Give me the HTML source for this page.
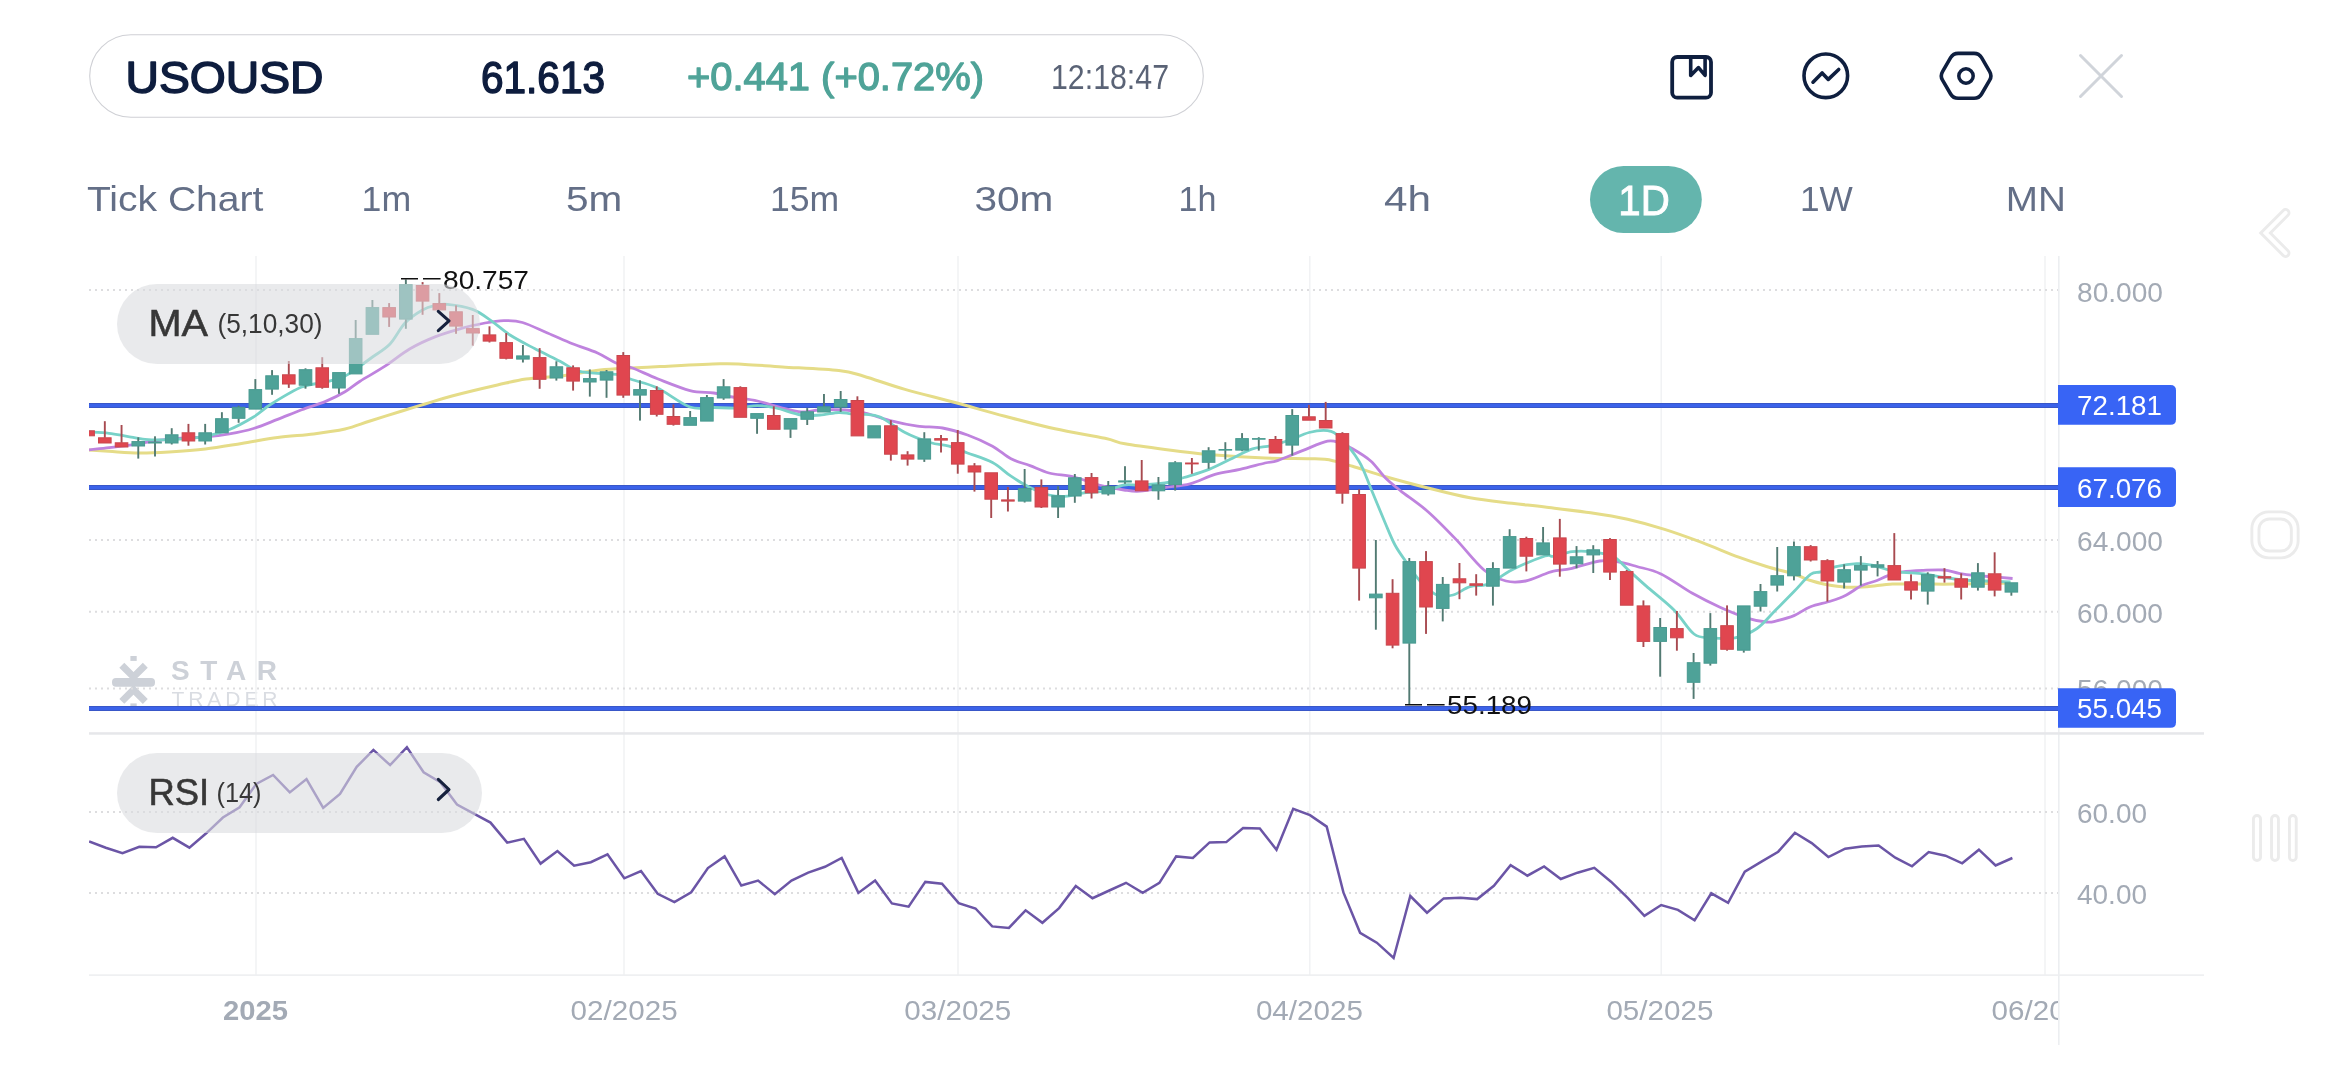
<!DOCTYPE html><html><head><meta charset="utf-8"><style>html,body{margin:0;padding:0;background:#fff;width:2340px;height:1080px;overflow:hidden;font-family:"Liberation Sans",sans-serif}</style></head><body><svg width="2340" height="1080" viewBox="0 0 2340 1080" style="position:absolute;left:0;top:0;will-change:transform">
<defs><clipPath id="plot"><rect x="89" y="250" width="1969" height="730"/></clipPath><clipPath id="xax"><rect x="0" y="980" width="2058" height="100"/></clipPath></defs>
<rect x="89.7" y="34.7" width="1113.6" height="82.6" rx="41.3" fill="#fff" stroke="#cfd0d5" stroke-width="1.1"/>
<text x="125.5" y="93" font-family="Liberation Sans, sans-serif" font-weight="400" font-size="44.5" fill="#0e1d3e" stroke="#0e1d3e" stroke-width="1.5" stroke-linejoin="round" textLength="198" lengthAdjust="spacingAndGlyphs">USOUSD</text>
<text x="481" y="93" font-family="Liberation Sans, sans-serif" font-weight="400" font-size="44.5" fill="#0e1d3e" stroke="#0e1d3e" stroke-width="1.5" stroke-linejoin="round" textLength="124" lengthAdjust="spacingAndGlyphs">61.613</text>
<text x="687" y="90.2" font-family="Liberation Sans, sans-serif" font-weight="400" font-size="39" fill="#4fa398" stroke="#4fa398" stroke-width="1.3" stroke-linejoin="round" textLength="297" lengthAdjust="spacingAndGlyphs">+0.441 (+0.72%)</text>
<text x="1051" y="89" font-family="Liberation Sans, sans-serif" font-weight="400" font-size="34.5" fill="#5a6376" textLength="118" lengthAdjust="spacingAndGlyphs">12:18:47</text>
<rect x="1672.2" y="57" width="38.8" height="40.7" rx="5" fill="none" stroke="#0f1f3f" stroke-width="3.8"/>
<path d="M1690.7,57.5 V75.5 L1698.5,67.6 L1705.1,75.3 V57.5" fill="none" stroke="#0f1f3f" stroke-width="3.6" stroke-linejoin="round" stroke-linecap="round"/>
<circle cx="1825.8" cy="75.8" r="21.8" fill="none" stroke="#0f1f3f" stroke-width="3.6"/>
<path d="M1813,82.2 L1822.1,72.9 L1828.3,79.4 L1838.7,69.5" fill="none" stroke="#0f1f3f" stroke-width="3.6" stroke-linecap="round" stroke-linejoin="round"/>
<path d="M1942.53,80.16 Q1940.00,75.85 1942.53,71.54 L1950.62,57.71 Q1953.15,53.40 1958.15,53.40 L1974.05,53.40 Q1979.05,53.40 1981.58,57.71 L1989.67,71.54 Q1992.20,75.85 1989.67,80.16 L1981.58,93.99 Q1979.05,98.30 1974.05,98.30 L1958.15,98.30 Q1953.15,98.30 1950.62,93.99 Z" fill="none" stroke="#0f1f3f" stroke-width="3.6" stroke-linejoin="round"/>
<circle cx="1966" cy="76" r="7.2" fill="none" stroke="#0f1f3f" stroke-width="3.5"/>
<path d="M2080.5,55.5 L2121.5,96.5 M2121.5,55.5 L2080.5,96.5" stroke="#d0d4da" stroke-width="3" stroke-linecap="round"/>
<rect x="1590" y="166" width="111.8" height="67" rx="33.5" fill="#64b5ad"/>
<text x="86.9" y="211.3" font-family="Liberation Sans, sans-serif" font-size="35" fill="#646f87" textLength="176.5" lengthAdjust="spacingAndGlyphs">Tick Chart</text>
<text x="361.6" y="211.3" font-family="Liberation Sans, sans-serif" font-size="35" fill="#646f87" textLength="49.6" lengthAdjust="spacingAndGlyphs">1m</text>
<text x="566.0" y="211.3" font-family="Liberation Sans, sans-serif" font-size="35" fill="#646f87" textLength="56.3" lengthAdjust="spacingAndGlyphs">5m</text>
<text x="770.0" y="211.3" font-family="Liberation Sans, sans-serif" font-size="35" fill="#646f87" textLength="69.2" lengthAdjust="spacingAndGlyphs">15m</text>
<text x="974.4" y="211.3" font-family="Liberation Sans, sans-serif" font-size="35" fill="#646f87" textLength="79.0" lengthAdjust="spacingAndGlyphs">30m</text>
<text x="1178.5" y="211.3" font-family="Liberation Sans, sans-serif" font-size="35" fill="#646f87" textLength="37.9" lengthAdjust="spacingAndGlyphs">1h</text>
<text x="1384.0" y="211.3" font-family="Liberation Sans, sans-serif" font-size="35" fill="#646f87" textLength="47.0" lengthAdjust="spacingAndGlyphs">4h</text>
<text x="1800.0" y="211.3" font-family="Liberation Sans, sans-serif" font-size="35" fill="#646f87" textLength="52.8" lengthAdjust="spacingAndGlyphs">1W</text>
<text x="2005.8" y="211.3" font-family="Liberation Sans, sans-serif" font-size="35" fill="#646f87" textLength="60.1" lengthAdjust="spacingAndGlyphs">MN</text>
<text x="1618.3" y="215.2" font-family="Liberation Sans, sans-serif" font-weight="400" font-size="42.5" fill="#fff" stroke="#fff" stroke-width="0.9" textLength="51.5" lengthAdjust="spacingAndGlyphs">1D</text>
<path d="M2285.6,212.9 L2265.5,233 L2285.6,253.1" fill="none" stroke="#ebebeb" stroke-width="9.7" stroke-linecap="round" stroke-linejoin="miter"/>
<path d="M2285.6,212.9 L2265.5,233 L2285.6,253.1" fill="none" stroke="#fff" stroke-width="3.9" stroke-linecap="round" stroke-linejoin="miter"/>
<rect x="2251.85" y="511.85" width="46.3" height="46.0" rx="17" fill="none" stroke="#ebebeb" stroke-width="2.9"/>
<rect x="2258.95" y="518.95" width="32.4" height="32.1" rx="10.5" fill="none" stroke="#ebebeb" stroke-width="2.9"/>
<rect x="2253.45" y="815.45" width="7.10" height="45.1" rx="3.55" fill="none" stroke="#ebebeb" stroke-width="2.9"/>
<rect x="2271.55" y="815.45" width="6.90" height="45.1" rx="3.45" fill="none" stroke="#ebebeb" stroke-width="2.9"/>
<rect x="2289.45" y="815.45" width="6.80" height="45.1" rx="3.40" fill="none" stroke="#ebebeb" stroke-width="2.9"/>
<g fill="#cdd1d8" stroke="none"><path d="M121.8,665.2 L133.5,676.9 L145.3,665.2 M121.8,701.4 L133.5,689.7 L145.3,701.4" fill="none" stroke="#cdd1d8" stroke-width="7" stroke-linejoin="miter"/><rect x="133" y="676" width="1" height="14"/><rect x="112" y="678" width="43" height="8.8" rx="4"/><rect x="130.4" y="656" width="6.3" height="4.9"/><rect x="130.4" y="703.4" width="6.3" height="4.9"/></g>
<text x="171" y="679.7" font-family="Liberation Sans, sans-serif" font-weight="700" font-size="28" fill="#cdd1d8" textLength="106" lengthAdjust="spacing">STAR</text>
<text x="171.5" y="705.8" font-family="Liberation Sans, sans-serif" font-weight="400" font-size="21" fill="#cdd1d8" textLength="106" lengthAdjust="spacing" opacity="0.75">TRADER</text>
<rect x="255.25" y="256" width="1.5" height="719" fill="#f1f2f4"/>
<rect x="623.25" y="256" width="1.5" height="719" fill="#f1f2f4"/>
<rect x="957.25" y="256" width="1.5" height="719" fill="#f1f2f4"/>
<rect x="1309.05" y="256" width="1.5" height="719" fill="#f1f2f4"/>
<rect x="1660.45" y="256" width="1.5" height="719" fill="#f1f2f4"/>
<rect x="2044.25" y="256" width="1.5" height="719" fill="#f1f2f4"/>
<rect x="2058" y="256" width="1.6" height="789" fill="#eceef1"/>
<line x1="89" y1="290" x2="2058" y2="290" stroke="#dddddf" stroke-width="2" stroke-dasharray="2 4"/>
<line x1="89" y1="540" x2="2058" y2="540" stroke="#dddddf" stroke-width="2" stroke-dasharray="2 4"/>
<line x1="89" y1="611.8" x2="2058" y2="611.8" stroke="#dddddf" stroke-width="2" stroke-dasharray="2 4"/>
<line x1="89" y1="688.5" x2="2058" y2="688.5" stroke="#dddddf" stroke-width="2" stroke-dasharray="2 4"/>
<line x1="89" y1="812" x2="2058" y2="812" stroke="#dddddf" stroke-width="2" stroke-dasharray="2 4"/>
<line x1="89" y1="893" x2="2058" y2="893" stroke="#dddddf" stroke-width="2" stroke-dasharray="2 4"/>
<rect x="89" y="732.2" width="2115" height="2.5" fill="#e6e7ea"/>
<rect x="89" y="974.3" width="2115" height="1.6" fill="#eeeff1"/>
<g clip-path="url(#plot)">
<rect x="89" y="403" width="1970" height="5" fill="#3957c8"/>
<rect x="89" y="404" width="1970" height="3" fill="#3b62e9"/>
<rect x="89" y="485" width="1970" height="5" fill="#3957c8"/>
<rect x="89" y="486" width="1970" height="3" fill="#3b62e9"/>
<rect x="89" y="706" width="1970" height="5" fill="#3957c8"/>
<rect x="89" y="707" width="1970" height="3" fill="#3b62e9"/>
<path d="M89.0,450.1 C92.3,450.3 100.7,450.8 109.0,451.3 C117.3,451.8 129.0,453.0 139.0,453.1 C149.0,453.2 157.9,452.7 169.0,452.0 C180.1,451.3 193.3,450.4 205.4,449.0 C217.5,447.6 229.5,445.4 241.5,443.5 C253.5,441.6 265.6,439.1 277.6,437.5 C289.6,435.9 302.5,435.3 313.7,433.9 C324.9,432.5 335.6,431.1 345.0,429.0 C354.4,426.9 360.5,424.0 370.0,421.0 C379.5,418.0 392.8,413.8 402.0,411.0 C411.2,408.2 416.7,406.5 425.0,404.0 C433.3,401.5 439.9,399.2 452.0,396.0 C464.1,392.8 485.2,387.8 497.5,385.0 C509.8,382.2 515.6,380.5 526.0,379.0 C536.4,377.5 547.7,377.5 560.0,376.0 C572.3,374.5 587.9,371.3 600.0,370.0 C612.1,368.7 622.5,368.6 632.5,368.0 C642.5,367.4 645.4,367.2 660.0,366.5 C674.6,365.8 705.8,364.1 720.0,363.8 C734.2,363.4 734.6,363.9 745.0,364.4 C755.4,364.9 766.9,365.9 782.5,366.9 C798.1,367.9 825.2,369.0 838.8,370.6 C852.3,372.2 852.7,373.1 863.8,376.2 C874.8,379.4 889.8,385.0 905.0,389.4 C920.2,393.8 938.3,398.0 955.0,402.5 C971.7,407.0 988.3,411.9 1005.0,416.2 C1021.7,420.6 1038.3,425.1 1055.0,428.8 C1071.7,432.4 1093.3,435.8 1105.0,438.3 C1116.7,440.8 1115.0,442.0 1125.0,443.8 C1135.0,445.6 1150.0,447.5 1165.0,449.4 C1180.0,451.3 1198.3,453.6 1215.0,455.0 C1231.7,456.4 1248.3,457.4 1265.0,458.0 C1281.7,458.6 1304.2,458.4 1315.0,458.8 C1325.8,459.1 1323.8,458.8 1330.0,460.0 C1336.2,461.2 1343.0,463.4 1352.5,466.2 C1362.0,469.1 1374.1,473.4 1386.7,477.0 C1399.3,480.6 1414.1,484.5 1428.0,488.0 C1441.9,491.5 1456.0,495.2 1470.0,497.8 C1484.0,500.4 1499.5,501.8 1512.0,503.3 C1524.5,504.8 1531.9,505.4 1545.0,507.0 C1558.1,508.6 1576.8,510.7 1590.6,512.8 C1604.4,514.8 1615.3,516.5 1627.6,519.3 C1639.9,522.1 1652.2,525.5 1664.6,529.4 C1676.9,533.2 1689.3,537.8 1701.7,542.4 C1714.1,547.0 1727.9,553.2 1738.7,557.2 C1749.5,561.2 1757.3,563.7 1766.5,566.5 C1775.7,569.3 1787.6,572.0 1794.0,574.0 C1800.4,576.0 1802.2,577.4 1805.0,578.5 C1807.8,579.6 1807.0,579.5 1810.5,580.5 C1814.0,581.5 1820.0,583.5 1826.0,584.6 C1832.0,585.7 1839.6,586.9 1846.4,587.2 C1853.2,587.6 1859.3,587.2 1867.0,586.7 C1874.7,586.2 1883.3,584.5 1892.6,584.1 C1901.9,583.7 1912.8,584.1 1923.0,584.1 C1933.2,584.1 1943.7,584.2 1954.0,584.1 C1964.3,584.0 1975.6,583.8 1985.0,583.6 C1994.4,583.4 2006.2,583.2 2010.5,583.1" fill="none" stroke="#e5dc88" stroke-width="3" stroke-linejoin="round"/>
<path d="M89.0,449.8 C92.3,449.4 101.7,448.6 109.0,447.7 C116.3,446.8 125.0,445.9 133.0,444.7 C141.0,443.5 148.9,441.6 157.0,440.5 C165.1,439.4 173.2,438.7 181.3,438.1 C189.4,437.5 197.4,437.6 205.4,436.9 C213.4,436.2 221.4,435.3 229.4,433.9 C237.4,432.5 245.5,430.9 253.5,428.5 C261.5,426.1 269.6,422.5 277.6,419.4 C285.6,416.3 293.7,412.8 301.7,409.8 C309.7,406.8 318.5,404.4 325.7,401.4 C332.9,398.4 339.3,395.2 345.0,391.8 C350.7,388.4 353.3,385.5 360.0,381.2 C366.7,377.0 376.7,371.7 385.0,366.2 C393.3,360.8 401.7,353.6 410.0,348.8 C418.3,343.9 426.7,340.2 435.0,336.9 C443.3,333.6 451.7,331.1 460.0,328.8 C468.3,326.4 477.7,324.4 485.0,323.0 C492.3,321.6 497.5,320.7 503.8,320.6 C510.0,320.5 515.2,320.4 522.5,322.5 C529.8,324.6 539.2,329.5 547.5,333.0 C555.8,336.5 564.2,340.4 572.5,343.8 C580.8,347.1 590.2,349.8 597.5,353.0 C604.8,356.2 610.2,360.5 616.0,363.0 C621.8,365.5 625.6,365.4 632.5,368.0 C639.4,370.6 647.9,375.0 657.5,378.8 C667.1,382.5 680.6,388.2 690.0,390.6 C699.4,393.0 706.7,391.9 713.8,393.0 C720.8,394.1 725.2,395.7 732.5,397.0 C739.8,398.3 749.2,399.2 757.5,401.0 C765.8,402.8 775.2,406.2 782.5,408.0 C789.8,409.8 794.8,411.7 801.0,412.0 C807.2,412.3 812.7,410.3 820.0,410.0 C827.3,409.7 837.5,409.5 845.0,410.0 C852.5,410.5 857.1,411.1 865.0,413.0 C872.9,414.9 883.8,419.0 892.5,421.2 C901.2,423.5 909.2,425.1 917.5,426.2 C925.8,427.4 934.2,426.5 942.5,428.0 C950.8,429.5 959.2,432.0 967.5,435.0 C975.8,438.0 985.2,442.3 992.5,446.2 C999.8,450.2 1004.8,455.5 1011.0,458.8 C1017.2,462.0 1023.7,463.2 1030.0,465.6 C1036.3,468.0 1041.7,471.1 1049.0,473.0 C1056.3,474.9 1065.7,475.0 1074.0,477.0 C1082.3,479.0 1090.7,482.8 1099.0,485.0 C1107.3,487.2 1117.2,489.0 1124.0,490.0 C1130.8,491.0 1133.2,491.7 1140.0,491.2 C1146.8,490.8 1156.7,488.8 1165.0,487.5 C1173.3,486.2 1181.7,485.9 1190.0,483.8 C1198.3,481.6 1206.7,476.8 1215.0,474.4 C1223.3,472.0 1231.7,471.3 1240.0,469.4 C1248.3,467.5 1258.8,464.5 1265.0,463.0 C1271.2,461.5 1271.2,462.7 1277.5,460.6 C1283.8,458.5 1294.2,453.8 1302.5,450.6 C1310.8,447.4 1321.2,442.5 1327.5,441.2 C1333.8,440.0 1335.8,441.8 1340.0,443.0 C1344.2,444.2 1347.3,445.7 1352.5,448.8 C1357.7,451.8 1365.6,456.5 1371.0,461.2 C1376.4,466.0 1380.1,472.6 1385.0,477.5 C1389.9,482.4 1393.4,485.1 1400.6,490.8 C1407.8,496.5 1418.8,503.6 1428.0,511.7 C1437.2,519.8 1446.7,529.7 1456.0,539.4 C1465.3,549.1 1475.7,563.1 1484.0,570.0 C1492.3,576.9 1499.1,579.2 1506.0,581.0 C1512.9,582.8 1519.1,582.2 1525.6,581.0 C1532.1,579.8 1540.3,575.6 1545.0,574.0 C1549.7,572.4 1549.0,572.1 1553.5,571.1 C1558.0,570.1 1564.3,570.0 1572.0,568.3 C1579.7,566.6 1592.1,562.1 1599.8,561.0 C1607.5,559.9 1611.8,561.0 1618.0,561.9 C1624.2,562.8 1629.6,564.5 1636.8,566.5 C1644.0,568.5 1651.7,569.4 1661.0,573.9 C1670.3,578.4 1682.6,587.8 1692.4,593.3 C1702.2,598.8 1710.7,603.0 1720.0,607.2 C1729.3,611.4 1740.2,615.8 1748.0,618.3 C1755.8,620.8 1761.9,621.5 1766.5,622.0 C1771.1,622.5 1771.1,622.2 1775.7,621.1 C1780.3,620.0 1788.2,618.0 1794.0,615.6 C1799.8,613.2 1804.3,609.1 1810.5,606.7 C1816.7,604.3 1825.0,603.0 1831.0,601.0 C1837.0,599.0 1841.3,597.5 1846.4,594.9 C1851.5,592.3 1856.7,588.0 1861.8,585.6 C1866.9,583.2 1872.7,582.1 1877.0,580.5 C1881.3,578.9 1883.1,577.4 1887.4,575.9 C1891.7,574.4 1896.8,572.7 1902.8,571.8 C1908.8,570.9 1916.4,570.6 1923.3,570.3 C1930.2,570.0 1938.0,569.5 1944.0,570.0 C1950.0,570.5 1953.9,572.4 1959.0,573.3 C1964.1,574.2 1968.6,574.8 1974.6,575.4 C1980.6,576.0 1988.7,576.5 1995.0,577.0 C2001.3,577.5 2009.7,578.2 2012.6,578.5" fill="none" stroke="#bf83de" stroke-width="2.8" stroke-linejoin="round"/>
<path d="M89.0,432.0 C92.3,432.2 102.7,432.6 109.0,433.3 C115.3,434.0 121.0,435.3 127.0,436.3 C133.0,437.3 139.0,438.7 145.0,439.3 C151.0,439.9 156.0,440.0 163.0,439.9 C170.0,439.8 180.0,439.3 187.0,438.7 C194.0,438.1 198.0,437.8 205.0,436.3 C212.0,434.8 220.9,432.9 229.0,429.7 C237.1,426.5 246.4,421.3 253.5,417.0 C260.6,412.7 263.6,408.8 271.6,403.8 C279.6,398.8 292.7,390.6 301.7,387.0 C310.7,383.4 318.5,383.9 325.7,382.1 C332.9,380.3 339.3,378.7 345.0,376.0 C350.7,373.3 355.4,369.2 360.0,366.0 C364.6,362.8 367.5,360.7 372.5,357.0 C377.5,353.3 384.6,349.7 390.0,344.0 C395.4,338.3 399.6,328.7 405.0,323.0 C410.4,317.3 417.5,312.9 422.5,310.0 C427.5,307.1 430.8,306.5 435.0,305.6 C439.2,304.7 441.2,303.8 447.5,304.4 C453.8,305.0 465.2,306.7 472.5,309.4 C479.8,312.1 484.8,316.3 491.0,320.6 C497.2,324.9 502.7,330.3 510.0,335.0 C517.3,339.7 526.7,344.4 535.0,348.8 C543.3,353.1 552.7,357.5 560.0,361.2 C567.3,365.0 571.2,369.2 578.8,371.2 C586.2,373.3 598.1,373.1 605.0,373.8 C611.9,374.4 615.4,374.0 620.0,375.0 C624.6,376.0 626.2,377.6 632.5,379.8 C638.8,381.9 647.9,383.5 657.5,388.0 C667.1,392.5 680.6,403.8 690.0,407.0 C699.4,410.2 705.6,407.3 713.8,407.5 C721.9,407.7 731.5,408.3 738.8,408.0 C746.0,407.7 751.3,405.6 757.5,405.6 C763.7,405.6 768.8,406.4 776.0,408.0 C783.2,409.6 793.7,413.8 801.0,415.0 C808.3,416.2 813.7,415.4 820.0,415.0 C826.3,414.6 833.6,412.7 838.8,412.5 C843.9,412.3 846.6,413.4 851.0,413.8 C855.4,414.1 860.2,413.9 865.0,414.4 C869.8,414.9 873.3,414.0 880.0,417.0 C886.7,420.0 896.7,428.2 905.0,432.5 C913.3,436.8 922.7,440.2 930.0,442.5 C937.3,444.8 942.8,444.5 949.0,446.2 C955.2,448.0 960.2,450.3 967.5,453.0 C974.8,455.7 985.2,458.6 992.5,462.5 C999.8,466.4 1004.8,472.1 1011.0,476.2 C1017.2,480.4 1023.7,484.4 1030.0,487.5 C1036.3,490.6 1042.8,493.5 1049.0,495.0 C1055.2,496.5 1061.3,496.7 1067.5,496.2 C1073.7,495.8 1079.8,493.3 1086.0,492.5 C1092.2,491.7 1098.7,492.5 1105.0,491.2 C1111.3,490.0 1118.2,486.0 1124.0,485.0 C1129.8,484.0 1133.2,485.3 1140.0,485.0 C1146.8,484.7 1157.7,484.2 1165.0,483.0 C1172.3,481.8 1176.7,479.8 1184.0,477.5 C1191.3,475.2 1200.7,472.7 1209.0,469.4 C1217.3,466.1 1226.8,460.9 1234.0,457.5 C1241.2,454.1 1246.3,450.7 1252.5,448.8 C1258.7,446.8 1264.8,447.1 1271.0,445.6 C1277.2,444.1 1283.7,442.2 1290.0,440.0 C1296.3,437.8 1302.8,434.1 1309.0,432.5 C1315.2,430.9 1322.3,429.8 1327.5,430.6 C1332.7,431.4 1334.8,432.4 1340.0,437.5 C1345.2,442.6 1353.8,452.7 1359.0,461.2 C1364.2,469.8 1366.7,478.5 1371.0,488.8 C1375.3,499.0 1381.0,513.1 1385.0,522.5 C1389.0,531.9 1391.5,538.5 1395.0,545.0 C1398.5,551.5 1401.8,555.7 1406.0,561.7 C1410.2,567.7 1414.9,575.5 1420.0,581.0 C1425.1,586.5 1431.2,592.7 1436.7,595.0 C1442.2,597.3 1447.5,596.4 1453.0,595.0 C1458.5,593.6 1464.0,588.6 1470.0,586.7 C1476.0,584.9 1482.0,586.7 1489.0,583.9 C1496.0,581.1 1502.4,574.6 1511.7,570.0 C1521.0,565.4 1538.0,558.3 1545.0,556.0 C1552.0,553.7 1549.0,557.0 1553.5,556.3 C1558.0,555.6 1565.8,552.5 1572.0,551.7 C1578.2,550.9 1583.8,550.9 1590.6,551.7 C1597.4,552.5 1606.6,553.4 1612.8,556.3 C1619.0,559.2 1622.1,564.4 1627.6,569.3 C1633.1,574.2 1638.3,579.1 1646.0,585.9 C1653.7,592.7 1666.0,602.0 1674.0,610.0 C1682.0,618.0 1687.8,629.4 1694.0,634.0 C1700.2,638.6 1704.2,637.2 1711.0,637.8 C1717.8,638.4 1727.3,639.3 1735.0,637.8 C1742.7,636.2 1750.2,633.1 1757.0,628.5 C1763.8,623.9 1769.5,616.2 1775.7,610.0 C1781.9,603.8 1788.2,597.4 1794.0,591.5 C1799.8,585.6 1806.0,577.7 1810.5,574.4 C1815.0,571.1 1816.5,573.1 1820.8,571.8 C1825.0,570.5 1830.0,568.1 1836.0,566.7 C1842.0,565.3 1850.7,563.9 1856.7,563.6 C1862.7,563.3 1866.9,564.1 1872.0,565.1 C1877.1,566.1 1882.3,568.5 1887.4,569.7 C1892.5,570.9 1896.8,571.6 1902.8,572.3 C1908.8,573.0 1916.4,572.9 1923.3,573.8 C1930.2,574.6 1937.2,576.4 1944.0,577.4 C1950.8,578.4 1957.2,579.4 1964.0,580.0 C1970.8,580.6 1977.2,580.7 1985.0,581.0 C1992.8,581.3 2006.2,581.8 2010.5,582.0" fill="none" stroke="#78d2c8" stroke-width="2.8" stroke-linejoin="round"/>
<rect x="81.80" y="430.8" width="12.60" height="5.0" fill="#e0464f" stroke="#c9464d" stroke-width="1"/>
<rect x="103.87" y="421.2" width="1.9" height="16.6" fill="#a84a50"/>
<rect x="98.52" y="437.8" width="12.60" height="5.2" fill="#e0464f" stroke="#c9464d" stroke-width="1"/>
<rect x="120.60" y="425.0" width="1.9" height="17.8" fill="#a84a50"/>
<rect x="115.25" y="442.8" width="12.60" height="4.2" fill="#e0464f" stroke="#c9464d" stroke-width="1"/>
<rect x="137.32" y="437.3" width="1.9" height="4.3" fill="#527a72"/>
<rect x="137.32" y="446.0" width="1.9" height="12.6" fill="#527a72"/>
<rect x="131.97" y="441.6" width="12.60" height="4.4" fill="#4ea298" stroke="#489a90" stroke-width="1"/>
<rect x="154.05" y="436.3" width="1.9" height="5.7" fill="#527a72"/>
<rect x="154.05" y="443.0" width="1.9" height="13.5" fill="#527a72"/>
<rect x="148.70" y="442.0" width="12.60" height="1.0" fill="#4ea298" stroke="#489a90" stroke-width="1"/>
<rect x="170.77" y="428.2" width="1.9" height="6.6" fill="#527a72"/>
<rect x="170.77" y="443.0" width="1.9" height="1.5" fill="#527a72"/>
<rect x="165.42" y="434.8" width="12.60" height="8.2" fill="#4ea298" stroke="#489a90" stroke-width="1"/>
<rect x="187.49" y="423.9" width="1.9" height="8.9" fill="#a84a50"/>
<rect x="187.49" y="441.0" width="1.9" height="4.7" fill="#a84a50"/>
<rect x="182.14" y="432.8" width="12.60" height="8.2" fill="#e0464f" stroke="#c9464d" stroke-width="1"/>
<rect x="204.22" y="423.9" width="1.9" height="8.9" fill="#527a72"/>
<rect x="204.22" y="441.0" width="1.9" height="3.5" fill="#527a72"/>
<rect x="198.87" y="432.8" width="12.60" height="8.2" fill="#4ea298" stroke="#489a90" stroke-width="1"/>
<rect x="220.94" y="412.2" width="1.9" height="6.5" fill="#527a72"/>
<rect x="215.59" y="418.7" width="12.60" height="14.1" fill="#4ea298" stroke="#489a90" stroke-width="1"/>
<rect x="237.67" y="405.6" width="1.9" height="1.7" fill="#527a72"/>
<rect x="237.67" y="418.3" width="1.9" height="4.5" fill="#527a72"/>
<rect x="232.32" y="407.3" width="12.60" height="11.0" fill="#4ea298" stroke="#489a90" stroke-width="1"/>
<rect x="254.39" y="379.1" width="1.9" height="10.5" fill="#527a72"/>
<rect x="249.04" y="389.6" width="12.60" height="19.5" fill="#4ea298" stroke="#489a90" stroke-width="1"/>
<rect x="271.11" y="370.1" width="1.9" height="5.7" fill="#527a72"/>
<rect x="271.11" y="389.1" width="1.9" height="5.7" fill="#527a72"/>
<rect x="265.76" y="375.8" width="12.60" height="13.3" fill="#4ea298" stroke="#489a90" stroke-width="1"/>
<rect x="287.84" y="361.0" width="1.9" height="13.8" fill="#a84a50"/>
<rect x="287.84" y="384.0" width="1.9" height="3.9" fill="#a84a50"/>
<rect x="282.49" y="374.8" width="12.60" height="9.2" fill="#e0464f" stroke="#c9464d" stroke-width="1"/>
<rect x="304.56" y="368.3" width="1.9" height="1.4" fill="#527a72"/>
<rect x="304.56" y="385.2" width="1.9" height="3.5" fill="#527a72"/>
<rect x="299.21" y="369.7" width="12.60" height="15.5" fill="#4ea298" stroke="#489a90" stroke-width="1"/>
<rect x="321.29" y="357.2" width="1.9" height="10.6" fill="#a84a50"/>
<rect x="321.29" y="387.3" width="1.9" height="1.4" fill="#a84a50"/>
<rect x="315.94" y="367.8" width="12.60" height="19.5" fill="#e0464f" stroke="#c9464d" stroke-width="1"/>
<rect x="338.01" y="388.0" width="1.9" height="5.8" fill="#527a72"/>
<rect x="332.66" y="372.6" width="12.60" height="15.4" fill="#4ea298" stroke="#489a90" stroke-width="1"/>
<rect x="354.73" y="320.0" width="1.9" height="18.6" fill="#527a72"/>
<rect x="349.38" y="338.6" width="12.60" height="35.3" fill="#4ea298" stroke="#489a90" stroke-width="1"/>
<rect x="371.46" y="300.0" width="1.9" height="7.6" fill="#527a72"/>
<rect x="366.11" y="307.6" width="12.60" height="26.7" fill="#4ea298" stroke="#489a90" stroke-width="1"/>
<rect x="388.18" y="303.1" width="1.9" height="4.5" fill="#a84a50"/>
<rect x="388.18" y="317.0" width="1.9" height="9.9" fill="#a84a50"/>
<rect x="382.83" y="307.6" width="12.60" height="9.4" fill="#e0464f" stroke="#c9464d" stroke-width="1"/>
<rect x="404.91" y="279.4" width="1.9" height="5.2" fill="#527a72"/>
<rect x="404.91" y="319.1" width="1.9" height="9.7" fill="#527a72"/>
<rect x="399.56" y="284.6" width="12.60" height="34.5" fill="#4ea298" stroke="#489a90" stroke-width="1"/>
<rect x="421.63" y="282.1" width="1.9" height="3.4" fill="#a84a50"/>
<rect x="421.63" y="301.1" width="1.9" height="13.7" fill="#a84a50"/>
<rect x="416.28" y="285.5" width="12.60" height="15.6" fill="#e0464f" stroke="#c9464d" stroke-width="1"/>
<rect x="438.35" y="293.1" width="1.9" height="10.5" fill="#a84a50"/>
<rect x="433.00" y="303.6" width="12.60" height="6.3" fill="#e0464f" stroke="#c9464d" stroke-width="1"/>
<rect x="455.08" y="305.4" width="1.9" height="6.4" fill="#a84a50"/>
<rect x="455.08" y="326.1" width="1.9" height="7.7" fill="#a84a50"/>
<rect x="449.73" y="311.8" width="12.60" height="14.3" fill="#e0464f" stroke="#c9464d" stroke-width="1"/>
<rect x="471.80" y="315.0" width="1.9" height="13.6" fill="#a84a50"/>
<rect x="471.80" y="333.0" width="1.9" height="12.6" fill="#a84a50"/>
<rect x="466.45" y="328.6" width="12.60" height="4.4" fill="#e0464f" stroke="#c9464d" stroke-width="1"/>
<rect x="488.53" y="326.3" width="1.9" height="8.6" fill="#a84a50"/>
<rect x="488.53" y="341.1" width="1.9" height="1.4" fill="#a84a50"/>
<rect x="483.18" y="334.9" width="12.60" height="6.2" fill="#e0464f" stroke="#c9464d" stroke-width="1"/>
<rect x="505.25" y="333.1" width="1.9" height="9.5" fill="#a84a50"/>
<rect x="505.25" y="358.3" width="1.9" height="1.1" fill="#a84a50"/>
<rect x="499.90" y="342.6" width="12.60" height="15.7" fill="#e0464f" stroke="#c9464d" stroke-width="1"/>
<rect x="521.97" y="345.0" width="1.9" height="10.9" fill="#527a72"/>
<rect x="521.97" y="359.1" width="1.9" height="3.4" fill="#527a72"/>
<rect x="516.62" y="355.9" width="12.60" height="3.2" fill="#4ea298" stroke="#489a90" stroke-width="1"/>
<rect x="538.70" y="348.1" width="1.9" height="9.5" fill="#a84a50"/>
<rect x="538.70" y="379.3" width="1.9" height="9.5" fill="#a84a50"/>
<rect x="533.35" y="357.6" width="12.60" height="21.7" fill="#e0464f" stroke="#c9464d" stroke-width="1"/>
<rect x="555.42" y="361.3" width="1.9" height="5.5" fill="#527a72"/>
<rect x="555.42" y="378.0" width="1.9" height="2.6" fill="#527a72"/>
<rect x="550.07" y="366.8" width="12.60" height="11.2" fill="#4ea298" stroke="#489a90" stroke-width="1"/>
<rect x="572.15" y="365.4" width="1.9" height="2.4" fill="#a84a50"/>
<rect x="572.15" y="381.1" width="1.9" height="9.5" fill="#a84a50"/>
<rect x="566.80" y="367.8" width="12.60" height="13.3" fill="#e0464f" stroke="#c9464d" stroke-width="1"/>
<rect x="588.87" y="369.4" width="1.9" height="9.2" fill="#527a72"/>
<rect x="588.87" y="382.0" width="1.9" height="14.6" fill="#527a72"/>
<rect x="583.52" y="378.6" width="12.60" height="3.4" fill="#4ea298" stroke="#489a90" stroke-width="1"/>
<rect x="605.59" y="370.0" width="1.9" height="1.8" fill="#527a72"/>
<rect x="605.59" y="380.1" width="1.9" height="17.7" fill="#527a72"/>
<rect x="600.24" y="371.8" width="12.60" height="8.3" fill="#4ea298" stroke="#489a90" stroke-width="1"/>
<rect x="622.32" y="352.1" width="1.9" height="3.4" fill="#a84a50"/>
<rect x="622.32" y="395.1" width="1.9" height="2.7" fill="#a84a50"/>
<rect x="616.97" y="355.5" width="12.60" height="39.6" fill="#e0464f" stroke="#c9464d" stroke-width="1"/>
<rect x="639.04" y="380.3" width="1.9" height="9.3" fill="#527a72"/>
<rect x="639.04" y="395.1" width="1.9" height="25.5" fill="#527a72"/>
<rect x="633.69" y="389.6" width="12.60" height="5.5" fill="#4ea298" stroke="#489a90" stroke-width="1"/>
<rect x="655.77" y="386.3" width="1.9" height="4.2" fill="#a84a50"/>
<rect x="655.77" y="414.3" width="1.9" height="2.2" fill="#a84a50"/>
<rect x="650.42" y="390.5" width="12.60" height="23.8" fill="#e0464f" stroke="#c9464d" stroke-width="1"/>
<rect x="672.49" y="404.4" width="1.9" height="12.1" fill="#a84a50"/>
<rect x="672.49" y="424.3" width="1.9" height="1.3" fill="#a84a50"/>
<rect x="667.14" y="416.5" width="12.60" height="7.8" fill="#e0464f" stroke="#c9464d" stroke-width="1"/>
<rect x="689.21" y="411.0" width="1.9" height="6.6" fill="#527a72"/>
<rect x="683.86" y="417.6" width="12.60" height="7.7" fill="#4ea298" stroke="#489a90" stroke-width="1"/>
<rect x="705.94" y="395.0" width="1.9" height="2.6" fill="#527a72"/>
<rect x="700.59" y="397.6" width="12.60" height="23.5" fill="#4ea298" stroke="#489a90" stroke-width="1"/>
<rect x="722.66" y="379.1" width="1.9" height="7.7" fill="#527a72"/>
<rect x="722.66" y="398.0" width="1.9" height="1.8" fill="#527a72"/>
<rect x="717.31" y="386.8" width="12.60" height="11.2" fill="#4ea298" stroke="#489a90" stroke-width="1"/>
<rect x="739.39" y="386.3" width="1.9" height="1.3" fill="#a84a50"/>
<rect x="734.04" y="387.6" width="12.60" height="29.7" fill="#e0464f" stroke="#c9464d" stroke-width="1"/>
<rect x="756.11" y="418.3" width="1.9" height="15.5" fill="#527a72"/>
<rect x="750.76" y="413.6" width="12.60" height="4.7" fill="#4ea298" stroke="#489a90" stroke-width="1"/>
<rect x="772.83" y="406.3" width="1.9" height="9.2" fill="#a84a50"/>
<rect x="767.48" y="415.5" width="12.60" height="13.8" fill="#e0464f" stroke="#c9464d" stroke-width="1"/>
<rect x="789.56" y="429.1" width="1.9" height="8.8" fill="#527a72"/>
<rect x="784.21" y="418.6" width="12.60" height="10.5" fill="#4ea298" stroke="#489a90" stroke-width="1"/>
<rect x="806.28" y="408.1" width="1.9" height="3.7" fill="#527a72"/>
<rect x="806.28" y="419.3" width="1.9" height="5.7" fill="#527a72"/>
<rect x="800.93" y="411.8" width="12.60" height="7.5" fill="#4ea298" stroke="#489a90" stroke-width="1"/>
<rect x="823.01" y="394.0" width="1.9" height="12.8" fill="#527a72"/>
<rect x="817.66" y="406.8" width="12.60" height="5.2" fill="#4ea298" stroke="#489a90" stroke-width="1"/>
<rect x="839.73" y="391.0" width="1.9" height="8.5" fill="#527a72"/>
<rect x="839.73" y="407.0" width="1.9" height="4.9" fill="#527a72"/>
<rect x="834.38" y="399.5" width="12.60" height="7.5" fill="#4ea298" stroke="#489a90" stroke-width="1"/>
<rect x="856.45" y="396.3" width="1.9" height="4.2" fill="#a84a50"/>
<rect x="851.10" y="400.5" width="12.60" height="35.4" fill="#e0464f" stroke="#c9464d" stroke-width="1"/>
<rect x="867.83" y="425.8" width="12.60" height="12.1" fill="#4ea298" stroke="#489a90" stroke-width="1"/>
<rect x="889.90" y="420.2" width="1.9" height="5.5" fill="#a84a50"/>
<rect x="889.90" y="454.1" width="1.9" height="6.5" fill="#a84a50"/>
<rect x="884.55" y="425.8" width="12.60" height="28.4" fill="#e0464f" stroke="#c9464d" stroke-width="1"/>
<rect x="906.63" y="451.2" width="1.9" height="3.6" fill="#a84a50"/>
<rect x="906.63" y="459.1" width="1.9" height="6.5" fill="#a84a50"/>
<rect x="901.28" y="454.9" width="12.60" height="4.2" fill="#e0464f" stroke="#c9464d" stroke-width="1"/>
<rect x="923.35" y="432.2" width="1.9" height="6.6" fill="#527a72"/>
<rect x="923.35" y="459.1" width="1.9" height="2.8" fill="#527a72"/>
<rect x="918.00" y="438.9" width="12.60" height="20.2" fill="#4ea298" stroke="#489a90" stroke-width="1"/>
<rect x="940.07" y="435.0" width="1.9" height="3.6" fill="#a84a50"/>
<rect x="940.07" y="440.1" width="1.9" height="12.4" fill="#a84a50"/>
<rect x="934.72" y="438.6" width="12.60" height="1.5" fill="#e0464f" stroke="#c9464d" stroke-width="1"/>
<rect x="956.80" y="430.0" width="1.9" height="12.6" fill="#a84a50"/>
<rect x="956.80" y="464.1" width="1.9" height="9.6" fill="#a84a50"/>
<rect x="951.45" y="442.6" width="12.60" height="21.5" fill="#e0464f" stroke="#c9464d" stroke-width="1"/>
<rect x="973.52" y="463.1" width="1.9" height="2.8" fill="#a84a50"/>
<rect x="973.52" y="472.0" width="1.9" height="19.6" fill="#a84a50"/>
<rect x="968.17" y="465.9" width="12.60" height="6.1" fill="#e0464f" stroke="#c9464d" stroke-width="1"/>
<rect x="990.25" y="499.1" width="1.9" height="18.9" fill="#a84a50"/>
<rect x="984.90" y="472.8" width="12.60" height="26.4" fill="#e0464f" stroke="#c9464d" stroke-width="1"/>
<rect x="1006.97" y="487.0" width="1.9" height="12.9" fill="#a84a50"/>
<rect x="1006.97" y="501.1" width="1.9" height="10.4" fill="#a84a50"/>
<rect x="1001.62" y="499.9" width="12.60" height="1.2" fill="#e0464f" stroke="#c9464d" stroke-width="1"/>
<rect x="1023.69" y="469.0" width="1.9" height="19.5" fill="#527a72"/>
<rect x="1023.69" y="501.1" width="1.9" height="1.4" fill="#527a72"/>
<rect x="1018.34" y="488.5" width="12.60" height="12.6" fill="#4ea298" stroke="#489a90" stroke-width="1"/>
<rect x="1040.42" y="479.4" width="1.9" height="8.0" fill="#a84a50"/>
<rect x="1040.42" y="507.0" width="1.9" height="1.0" fill="#a84a50"/>
<rect x="1035.07" y="487.4" width="12.60" height="19.6" fill="#e0464f" stroke="#c9464d" stroke-width="1"/>
<rect x="1057.14" y="486.2" width="1.9" height="9.5" fill="#527a72"/>
<rect x="1057.14" y="507.0" width="1.9" height="11.0" fill="#527a72"/>
<rect x="1051.79" y="495.8" width="12.60" height="11.2" fill="#4ea298" stroke="#489a90" stroke-width="1"/>
<rect x="1073.87" y="474.0" width="1.9" height="3.8" fill="#527a72"/>
<rect x="1073.87" y="496.0" width="1.9" height="6.8" fill="#527a72"/>
<rect x="1068.52" y="477.8" width="12.60" height="18.2" fill="#4ea298" stroke="#489a90" stroke-width="1"/>
<rect x="1090.59" y="473.0" width="1.9" height="4.6" fill="#a84a50"/>
<rect x="1090.59" y="492.9" width="1.9" height="5.6" fill="#a84a50"/>
<rect x="1085.24" y="477.6" width="12.60" height="15.3" fill="#e0464f" stroke="#c9464d" stroke-width="1"/>
<rect x="1107.31" y="481.0" width="1.9" height="5.5" fill="#527a72"/>
<rect x="1107.31" y="493.9" width="1.9" height="1.7" fill="#527a72"/>
<rect x="1101.96" y="486.5" width="12.60" height="7.4" fill="#4ea298" stroke="#489a90" stroke-width="1"/>
<rect x="1124.04" y="466.2" width="1.9" height="14.6" fill="#527a72"/>
<rect x="1124.04" y="482.0" width="1.9" height="1.8" fill="#527a72"/>
<rect x="1118.69" y="480.9" width="12.60" height="1.1" fill="#4ea298" stroke="#489a90" stroke-width="1"/>
<rect x="1140.76" y="460.0" width="1.9" height="20.9" fill="#a84a50"/>
<rect x="1135.41" y="480.9" width="12.60" height="9.9" fill="#e0464f" stroke="#c9464d" stroke-width="1"/>
<rect x="1157.49" y="477.0" width="1.9" height="7.9" fill="#527a72"/>
<rect x="1157.49" y="490.8" width="1.9" height="9.0" fill="#527a72"/>
<rect x="1152.14" y="484.9" width="12.60" height="5.9" fill="#4ea298" stroke="#489a90" stroke-width="1"/>
<rect x="1174.21" y="461.2" width="1.9" height="1.5" fill="#527a72"/>
<rect x="1174.21" y="484.5" width="1.9" height="6.1" fill="#527a72"/>
<rect x="1168.86" y="462.8" width="12.60" height="21.8" fill="#4ea298" stroke="#489a90" stroke-width="1"/>
<rect x="1190.93" y="458.0" width="1.9" height="5.0" fill="#a84a50"/>
<rect x="1190.93" y="463.9" width="1.9" height="9.9" fill="#a84a50"/>
<rect x="1185.58" y="463.0" width="12.60" height="0.9" fill="#e0464f" stroke="#c9464d" stroke-width="1"/>
<rect x="1207.66" y="447.2" width="1.9" height="3.5" fill="#527a72"/>
<rect x="1207.66" y="462.2" width="1.9" height="6.5" fill="#527a72"/>
<rect x="1202.31" y="450.8" width="12.60" height="11.5" fill="#4ea298" stroke="#489a90" stroke-width="1"/>
<rect x="1224.38" y="442.2" width="1.9" height="7.2" fill="#527a72"/>
<rect x="1224.38" y="450.1" width="1.9" height="9.5" fill="#527a72"/>
<rect x="1219.03" y="449.5" width="12.60" height="0.6" fill="#4ea298" stroke="#489a90" stroke-width="1"/>
<rect x="1241.11" y="433.1" width="1.9" height="5.5" fill="#527a72"/>
<rect x="1241.11" y="450.1" width="1.9" height="1.1" fill="#527a72"/>
<rect x="1235.76" y="438.6" width="12.60" height="11.5" fill="#4ea298" stroke="#489a90" stroke-width="1"/>
<rect x="1257.83" y="437.2" width="1.9" height="1.4" fill="#527a72"/>
<rect x="1257.83" y="439.2" width="1.9" height="11.4" fill="#527a72"/>
<rect x="1252.48" y="438.6" width="12.60" height="0.6" fill="#4ea298" stroke="#489a90" stroke-width="1"/>
<rect x="1274.55" y="436.0" width="1.9" height="3.5" fill="#a84a50"/>
<rect x="1269.20" y="439.5" width="12.60" height="13.5" fill="#e0464f" stroke="#c9464d" stroke-width="1"/>
<rect x="1291.28" y="409.1" width="1.9" height="6.4" fill="#527a72"/>
<rect x="1291.28" y="445.1" width="1.9" height="10.5" fill="#527a72"/>
<rect x="1285.93" y="415.5" width="12.60" height="29.6" fill="#4ea298" stroke="#489a90" stroke-width="1"/>
<rect x="1308.00" y="404.8" width="1.9" height="12.0" fill="#a84a50"/>
<rect x="1302.65" y="416.8" width="12.60" height="3.4" fill="#e0464f" stroke="#c9464d" stroke-width="1"/>
<rect x="1324.73" y="401.9" width="1.9" height="18.6" fill="#a84a50"/>
<rect x="1319.38" y="420.5" width="12.60" height="7.5" fill="#e0464f" stroke="#c9464d" stroke-width="1"/>
<rect x="1341.45" y="432.2" width="1.9" height="1.4" fill="#a84a50"/>
<rect x="1341.45" y="493.2" width="1.9" height="10.5" fill="#a84a50"/>
<rect x="1336.10" y="433.6" width="12.60" height="59.6" fill="#e0464f" stroke="#c9464d" stroke-width="1"/>
<rect x="1358.17" y="489.4" width="1.9" height="5.1" fill="#a84a50"/>
<rect x="1358.17" y="568.1" width="1.9" height="32.5" fill="#a84a50"/>
<rect x="1352.82" y="494.5" width="12.60" height="73.6" fill="#e0464f" stroke="#c9464d" stroke-width="1"/>
<rect x="1374.90" y="540.0" width="1.9" height="54.1" fill="#527a72"/>
<rect x="1374.90" y="597.8" width="1.9" height="31.9" fill="#527a72"/>
<rect x="1369.55" y="594.1" width="12.60" height="3.7" fill="#4ea298" stroke="#489a90" stroke-width="1"/>
<rect x="1391.62" y="579.2" width="1.9" height="14.1" fill="#a84a50"/>
<rect x="1391.62" y="645.1" width="1.9" height="3.2" fill="#a84a50"/>
<rect x="1386.27" y="593.3" width="12.60" height="51.8" fill="#e0464f" stroke="#c9464d" stroke-width="1"/>
<rect x="1408.35" y="558.0" width="1.9" height="3.6" fill="#527a72"/>
<rect x="1408.35" y="643.1" width="1.9" height="61.6" fill="#527a72"/>
<rect x="1403.00" y="561.6" width="12.60" height="81.5" fill="#4ea298" stroke="#489a90" stroke-width="1"/>
<rect x="1425.07" y="551.1" width="1.9" height="10.5" fill="#a84a50"/>
<rect x="1425.07" y="607.0" width="1.9" height="26.9" fill="#a84a50"/>
<rect x="1419.72" y="561.6" width="12.60" height="45.4" fill="#e0464f" stroke="#c9464d" stroke-width="1"/>
<rect x="1441.79" y="577.0" width="1.9" height="7.4" fill="#527a72"/>
<rect x="1441.79" y="608.4" width="1.9" height="13.0" fill="#527a72"/>
<rect x="1436.44" y="584.4" width="12.60" height="24.0" fill="#4ea298" stroke="#489a90" stroke-width="1"/>
<rect x="1458.52" y="563.0" width="1.9" height="15.8" fill="#a84a50"/>
<rect x="1458.52" y="582.8" width="1.9" height="16.4" fill="#a84a50"/>
<rect x="1453.17" y="578.8" width="12.60" height="4.0" fill="#e0464f" stroke="#c9464d" stroke-width="1"/>
<rect x="1475.24" y="574.2" width="1.9" height="9.6" fill="#a84a50"/>
<rect x="1475.24" y="585.3" width="1.9" height="10.3" fill="#a84a50"/>
<rect x="1469.89" y="583.8" width="12.60" height="1.5" fill="#e0464f" stroke="#c9464d" stroke-width="1"/>
<rect x="1491.97" y="562.2" width="1.9" height="6.3" fill="#527a72"/>
<rect x="1491.97" y="586.2" width="1.9" height="19.4" fill="#527a72"/>
<rect x="1486.62" y="568.5" width="12.60" height="17.7" fill="#4ea298" stroke="#489a90" stroke-width="1"/>
<rect x="1508.69" y="529.2" width="1.9" height="7.4" fill="#527a72"/>
<rect x="1503.34" y="536.6" width="12.60" height="31.5" fill="#4ea298" stroke="#489a90" stroke-width="1"/>
<rect x="1525.41" y="536.7" width="1.9" height="1.8" fill="#a84a50"/>
<rect x="1525.41" y="556.2" width="1.9" height="15.2" fill="#a84a50"/>
<rect x="1520.06" y="538.5" width="12.60" height="17.7" fill="#e0464f" stroke="#c9464d" stroke-width="1"/>
<rect x="1542.14" y="527.0" width="1.9" height="15.9" fill="#527a72"/>
<rect x="1536.79" y="542.9" width="12.60" height="12.0" fill="#4ea298" stroke="#489a90" stroke-width="1"/>
<rect x="1558.86" y="518.9" width="1.9" height="19.0" fill="#a84a50"/>
<rect x="1558.86" y="564.1" width="1.9" height="12.6" fill="#a84a50"/>
<rect x="1553.51" y="537.9" width="12.60" height="26.2" fill="#e0464f" stroke="#c9464d" stroke-width="1"/>
<rect x="1575.59" y="546.1" width="1.9" height="10.7" fill="#527a72"/>
<rect x="1575.59" y="563.8" width="1.9" height="4.5" fill="#527a72"/>
<rect x="1570.24" y="556.8" width="12.60" height="7.0" fill="#4ea298" stroke="#489a90" stroke-width="1"/>
<rect x="1592.31" y="545.2" width="1.9" height="4.6" fill="#527a72"/>
<rect x="1592.31" y="554.9" width="1.9" height="18.1" fill="#527a72"/>
<rect x="1586.96" y="549.8" width="12.60" height="5.1" fill="#4ea298" stroke="#489a90" stroke-width="1"/>
<rect x="1609.03" y="538.1" width="1.9" height="1.4" fill="#a84a50"/>
<rect x="1609.03" y="572.1" width="1.9" height="7.9" fill="#a84a50"/>
<rect x="1603.68" y="539.5" width="12.60" height="32.6" fill="#e0464f" stroke="#c9464d" stroke-width="1"/>
<rect x="1625.76" y="570.0" width="1.9" height="1.6" fill="#a84a50"/>
<rect x="1620.41" y="571.6" width="12.60" height="33.6" fill="#e0464f" stroke="#c9464d" stroke-width="1"/>
<rect x="1642.48" y="600.4" width="1.9" height="5.5" fill="#a84a50"/>
<rect x="1642.48" y="641.4" width="1.9" height="5.6" fill="#a84a50"/>
<rect x="1637.13" y="605.9" width="12.60" height="35.5" fill="#e0464f" stroke="#c9464d" stroke-width="1"/>
<rect x="1659.21" y="618.0" width="1.9" height="9.5" fill="#527a72"/>
<rect x="1659.21" y="641.4" width="1.9" height="35.3" fill="#527a72"/>
<rect x="1653.86" y="627.5" width="12.60" height="13.9" fill="#4ea298" stroke="#489a90" stroke-width="1"/>
<rect x="1675.93" y="611.0" width="1.9" height="17.6" fill="#a84a50"/>
<rect x="1675.93" y="637.8" width="1.9" height="12.9" fill="#a84a50"/>
<rect x="1670.58" y="628.6" width="12.60" height="9.2" fill="#e0464f" stroke="#c9464d" stroke-width="1"/>
<rect x="1692.65" y="653.0" width="1.9" height="9.7" fill="#527a72"/>
<rect x="1692.65" y="682.3" width="1.9" height="16.6" fill="#527a72"/>
<rect x="1687.30" y="662.7" width="12.60" height="19.6" fill="#4ea298" stroke="#489a90" stroke-width="1"/>
<rect x="1709.38" y="613.1" width="1.9" height="15.5" fill="#527a72"/>
<rect x="1709.38" y="663.2" width="1.9" height="2.4" fill="#527a72"/>
<rect x="1704.03" y="628.6" width="12.60" height="34.6" fill="#4ea298" stroke="#489a90" stroke-width="1"/>
<rect x="1726.10" y="605.4" width="1.9" height="20.3" fill="#a84a50"/>
<rect x="1726.10" y="649.3" width="1.9" height="1.4" fill="#a84a50"/>
<rect x="1720.75" y="625.7" width="12.60" height="23.6" fill="#e0464f" stroke="#c9464d" stroke-width="1"/>
<rect x="1742.83" y="650.2" width="1.9" height="2.4" fill="#527a72"/>
<rect x="1737.48" y="605.9" width="12.60" height="44.3" fill="#4ea298" stroke="#489a90" stroke-width="1"/>
<rect x="1759.55" y="584.0" width="1.9" height="7.6" fill="#527a72"/>
<rect x="1759.55" y="606.2" width="1.9" height="5.3" fill="#527a72"/>
<rect x="1754.20" y="591.6" width="12.60" height="14.6" fill="#4ea298" stroke="#489a90" stroke-width="1"/>
<rect x="1776.27" y="547.0" width="1.9" height="28.7" fill="#527a72"/>
<rect x="1776.27" y="585.1" width="1.9" height="6.4" fill="#527a72"/>
<rect x="1770.92" y="575.7" width="12.60" height="9.4" fill="#4ea298" stroke="#489a90" stroke-width="1"/>
<rect x="1793.00" y="541.5" width="1.9" height="5.1" fill="#527a72"/>
<rect x="1793.00" y="575.8" width="1.9" height="4.6" fill="#527a72"/>
<rect x="1787.65" y="546.6" width="12.60" height="29.2" fill="#4ea298" stroke="#489a90" stroke-width="1"/>
<rect x="1809.72" y="545.1" width="1.9" height="1.6" fill="#a84a50"/>
<rect x="1809.72" y="560.0" width="1.9" height="1.5" fill="#a84a50"/>
<rect x="1804.37" y="546.7" width="12.60" height="13.3" fill="#e0464f" stroke="#c9464d" stroke-width="1"/>
<rect x="1826.45" y="559.2" width="1.9" height="1.5" fill="#a84a50"/>
<rect x="1826.45" y="581.0" width="1.9" height="20.5" fill="#a84a50"/>
<rect x="1821.10" y="560.7" width="12.60" height="20.3" fill="#e0464f" stroke="#c9464d" stroke-width="1"/>
<rect x="1843.17" y="564.3" width="1.9" height="5.4" fill="#527a72"/>
<rect x="1843.17" y="582.1" width="1.9" height="6.4" fill="#527a72"/>
<rect x="1837.82" y="569.7" width="12.60" height="12.4" fill="#4ea298" stroke="#489a90" stroke-width="1"/>
<rect x="1859.89" y="556.1" width="1.9" height="9.5" fill="#527a72"/>
<rect x="1859.89" y="570.1" width="1.9" height="15.5" fill="#527a72"/>
<rect x="1854.54" y="565.6" width="12.60" height="4.5" fill="#4ea298" stroke="#489a90" stroke-width="1"/>
<rect x="1876.62" y="561.0" width="1.9" height="3.8" fill="#527a72"/>
<rect x="1876.62" y="567.2" width="1.9" height="9.2" fill="#527a72"/>
<rect x="1871.27" y="564.8" width="12.60" height="2.4" fill="#4ea298" stroke="#489a90" stroke-width="1"/>
<rect x="1893.34" y="533.1" width="1.9" height="32.5" fill="#a84a50"/>
<rect x="1887.99" y="565.6" width="12.60" height="14.4" fill="#e0464f" stroke="#c9464d" stroke-width="1"/>
<rect x="1910.07" y="574.4" width="1.9" height="7.4" fill="#a84a50"/>
<rect x="1910.07" y="590.1" width="1.9" height="9.4" fill="#a84a50"/>
<rect x="1904.72" y="581.8" width="12.60" height="8.3" fill="#e0464f" stroke="#c9464d" stroke-width="1"/>
<rect x="1926.79" y="572.3" width="1.9" height="2.4" fill="#527a72"/>
<rect x="1926.79" y="591.1" width="1.9" height="13.5" fill="#527a72"/>
<rect x="1921.44" y="574.7" width="12.60" height="16.4" fill="#4ea298" stroke="#489a90" stroke-width="1"/>
<rect x="1943.51" y="568.2" width="1.9" height="8.5" fill="#a84a50"/>
<rect x="1943.51" y="578.0" width="1.9" height="4.6" fill="#a84a50"/>
<rect x="1938.16" y="576.7" width="12.60" height="1.3" fill="#e0464f" stroke="#c9464d" stroke-width="1"/>
<rect x="1960.24" y="573.3" width="1.9" height="5.5" fill="#a84a50"/>
<rect x="1960.24" y="587.2" width="1.9" height="12.3" fill="#a84a50"/>
<rect x="1954.89" y="578.8" width="12.60" height="8.4" fill="#e0464f" stroke="#c9464d" stroke-width="1"/>
<rect x="1976.96" y="563.1" width="1.9" height="9.7" fill="#527a72"/>
<rect x="1976.96" y="587.2" width="1.9" height="3.4" fill="#527a72"/>
<rect x="1971.61" y="572.8" width="12.60" height="14.4" fill="#4ea298" stroke="#489a90" stroke-width="1"/>
<rect x="1993.69" y="552.3" width="1.9" height="21.5" fill="#a84a50"/>
<rect x="1993.69" y="590.1" width="1.9" height="6.3" fill="#a84a50"/>
<rect x="1988.34" y="573.8" width="12.60" height="16.3" fill="#e0464f" stroke="#c9464d" stroke-width="1"/>
<rect x="2010.41" y="592.1" width="1.9" height="3.6" fill="#527a72"/>
<rect x="2005.06" y="582.8" width="12.60" height="9.3" fill="#4ea298" stroke="#489a90" stroke-width="1"/>
<polyline points="89.1,841.4 105.8,847.7 122.5,853.1 139.3,846.8 156.0,847.3 172.7,837.8 189.4,847.7 206.2,833.3 222.9,817.5 239.6,807.3 256.3,784.0 273.1,775.0 289.8,792.4 306.5,779.1 323.2,807.9 340.0,793.9 356.7,766.9 373.4,749.9 390.1,765.1 406.9,747.2 423.6,772.3 440.3,782.2 457.0,804.6 473.8,813.6 490.5,822.6 507.2,842.6 523.9,838.8 540.6,863.6 557.4,851.0 574.1,865.7 590.8,862.2 607.5,854.3 624.3,878.3 641.0,871.1 657.7,893.8 674.4,902.2 691.2,892.3 707.9,868.1 724.6,856.4 741.3,885.5 758.1,880.6 774.8,894.1 791.5,880.6 808.2,872.6 825.0,866.8 841.7,857.9 858.4,892.9 875.1,880.6 891.9,903.4 908.6,906.7 925.3,881.9 942.0,883.7 958.7,903.1 975.5,908.5 992.2,926.4 1008.9,927.9 1025.6,910.3 1042.4,922.8 1059.1,908.1 1075.8,886.0 1092.5,898.2 1109.3,890.5 1126.0,882.8 1142.7,892.9 1159.4,882.8 1176.2,856.4 1192.9,857.9 1209.6,842.4 1226.3,842.1 1243.1,828.1 1259.8,828.6 1276.5,849.8 1293.2,808.8 1310.0,815.1 1326.7,826.6 1343.4,892.4 1360.1,932.8 1376.8,942.7 1393.6,958.0 1410.3,896.0 1427.0,912.7 1443.7,898.4 1460.5,897.8 1477.2,899.1 1493.9,885.8 1510.6,865.2 1527.4,875.7 1544.1,866.4 1560.8,879.0 1577.5,872.7 1594.3,867.9 1611.0,881.7 1627.7,897.8 1644.4,915.8 1661.2,905.0 1677.9,909.9 1694.6,920.3 1711.3,893.3 1728.1,902.9 1744.8,871.6 1761.5,861.7 1778.2,851.7 1794.9,832.8 1811.7,843.1 1828.4,857.0 1845.1,848.7 1861.8,846.4 1878.6,845.5 1895.3,857.7 1912.0,866.3 1928.7,852.1 1945.5,855.7 1962.2,863.3 1978.9,849.7 1995.6,865.4 2012.4,858.0" fill="none" stroke="#6b55a6" stroke-width="2.5" stroke-linejoin="miter"/>
</g>
<path d="M401,278.8 H418 M423,278.8 H440.6" stroke="#111" stroke-width="1.6"/>
<text x="443" y="288.7" font-family="Liberation Sans, sans-serif" font-size="26" fill="#111" textLength="86" lengthAdjust="spacingAndGlyphs">80.757</text>
<path d="M1405,704.7 H1422 M1427,704.7 H1444.6" stroke="#111" stroke-width="1.6"/>
<text x="1447" y="714.3" font-family="Liberation Sans, sans-serif" font-size="26" fill="#111" textLength="85" lengthAdjust="spacingAndGlyphs">55.189</text>
<rect x="117" y="284" width="363" height="80" rx="40" fill="rgba(217,219,222,0.58)"/>
<rect x="117" y="753" width="365" height="80" rx="40" fill="rgba(217,219,222,0.58)"/>
<text x="148.4" y="336.3" font-family="Liberation Sans, sans-serif" font-weight="400" font-size="37" fill="#373737" stroke="#373737" stroke-width="0.55" textLength="59.5" lengthAdjust="spacingAndGlyphs">MA</text>
<text x="217.5" y="332.6" font-family="Liberation Sans, sans-serif" font-size="27" fill="#373737" textLength="105" lengthAdjust="spacingAndGlyphs">(5,10,30)</text>
<text x="148.4" y="804.8" font-family="Liberation Sans, sans-serif" font-weight="400" font-size="37" fill="#373737" stroke="#373737" stroke-width="0.55" textLength="60.8" lengthAdjust="spacingAndGlyphs">RSI</text>
<text x="216.5" y="802" font-family="Liberation Sans, sans-serif" font-size="27" fill="#373737" textLength="45" lengthAdjust="spacingAndGlyphs">(14)</text>
<path d="M438.3,311.3 L449,320.9 L438.3,330.6" fill="none" stroke="#16213d" stroke-width="3.1" stroke-linecap="round" stroke-linejoin="round"/>
<path d="M438.3,779.3 L449,789.5 L438.3,799.5" fill="none" stroke="#16213d" stroke-width="3.1" stroke-linecap="round" stroke-linejoin="round"/>
<text x="2077" y="301.8" font-family="Liberation Sans, sans-serif" font-size="27.5" fill="#a3aab5" textLength="86" lengthAdjust="spacingAndGlyphs">80.000</text>
<text x="2077" y="550.7" font-family="Liberation Sans, sans-serif" font-size="27.5" fill="#a3aab5" textLength="86" lengthAdjust="spacingAndGlyphs">64.000</text>
<text x="2077" y="622.7" font-family="Liberation Sans, sans-serif" font-size="27.5" fill="#a3aab5" textLength="86" lengthAdjust="spacingAndGlyphs">60.000</text>
<text x="2077" y="698.5" font-family="Liberation Sans, sans-serif" font-size="27.5" fill="#a3aab5" textLength="86" lengthAdjust="spacingAndGlyphs">56.000</text>
<text x="2077" y="822.7" font-family="Liberation Sans, sans-serif" font-size="27.5" fill="#a3aab5" textLength="70" lengthAdjust="spacingAndGlyphs">60.00</text>
<text x="2077" y="903.8" font-family="Liberation Sans, sans-serif" font-size="27.5" fill="#a3aab5" textLength="70" lengthAdjust="spacingAndGlyphs">40.00</text>
<path d="M2058,385.1 H2170.5 Q2176,385.1 2176,390.6 V419.3 Q2176,424.8 2170.5,424.8 H2058 Z" fill="#3864f5"/>
<text x="2077" y="415.4" font-family="Liberation Sans, sans-serif" font-size="28.5" fill="#fff" textLength="85" lengthAdjust="spacingAndGlyphs">72.181</text>
<path d="M2058,467.3 H2170.5 Q2176,467.3 2176,472.8 V501.4 Q2176,506.9 2170.5,506.9 H2058 Z" fill="#3864f5"/>
<text x="2077" y="497.5" font-family="Liberation Sans, sans-serif" font-size="28.5" fill="#fff" textLength="85" lengthAdjust="spacingAndGlyphs">67.076</text>
<path d="M2058,688.2 H2170.5 Q2176,688.2 2176,693.7 V722.3 Q2176,727.8 2170.5,727.8 H2058 Z" fill="#3864f5"/>
<text x="2077" y="718.4" font-family="Liberation Sans, sans-serif" font-size="28.5" fill="#fff" textLength="85" lengthAdjust="spacingAndGlyphs">55.045</text>
<g clip-path="url(#xax)">
<text x="223" y="1020.2" font-family="Liberation Sans, sans-serif" font-weight="700" font-size="28" fill="#a3aab5" textLength="65" lengthAdjust="spacingAndGlyphs">2025</text>
<text x="570.6" y="1020.2" font-family="Liberation Sans, sans-serif" font-size="28" fill="#a3aab5" textLength="107" lengthAdjust="spacingAndGlyphs">02/2025</text>
<text x="904.3" y="1020.2" font-family="Liberation Sans, sans-serif" font-size="28" fill="#a3aab5" textLength="107" lengthAdjust="spacingAndGlyphs">03/2025</text>
<text x="1255.9" y="1020.2" font-family="Liberation Sans, sans-serif" font-size="28" fill="#a3aab5" textLength="107" lengthAdjust="spacingAndGlyphs">04/2025</text>
<text x="1606.4" y="1020.2" font-family="Liberation Sans, sans-serif" font-size="28" fill="#a3aab5" textLength="107" lengthAdjust="spacingAndGlyphs">05/2025</text>
<text x="1991.6" y="1020.2" font-family="Liberation Sans, sans-serif" font-size="28" fill="#a3aab5" textLength="107" lengthAdjust="spacingAndGlyphs">06/2025</text>
</g>
</svg></body></html>
